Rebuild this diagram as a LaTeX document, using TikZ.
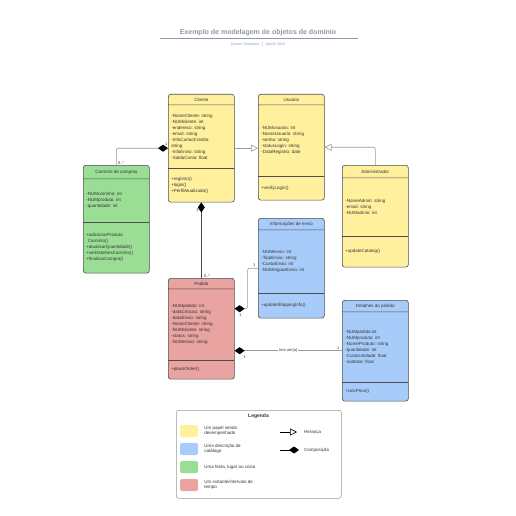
\documentclass[tikz,border=0pt]{standalone}
\usepackage{fontspec}
\setmainfont{Liberation Sans}
\usetikzlibrary{shapes.multipart,arrows.meta,positioning}

\definecolor{amarelo}{HTML}{FFF09E}
\definecolor{azul}{HTML}{A8CCFA}
\definecolor{verde}{HTML}{9ADD95}
\definecolor{vermelho}{HTML}{E9A3A1}
\definecolor{borda}{HTML}{4D4D4D}
\definecolor{texto}{HTML}{333333}
\definecolor{linha}{HTML}{9A9A9A}
\definecolor{cinza}{HTML}{8F98A8}

\newcommand{\titulo}[2]{\parbox[c][#1pt][c]{60pt}{\centering #2}}
\newcommand{\secao}[2]{\parbox[c][#1pt][c]{60pt}{\raggedright #2}}

\begin{document}
\begin{tikzpicture}[x=1pt, y=-1pt, >=latex]
        \tikzset{
  classe/.style={
    rectangle split,
    rectangle split parts=3,
    draw=borda,
    line width=.6pt,
    rounded corners=2.5pt,
    inner xsep=3pt,
    inner ysep=0pt,
    anchor=north west,
    text=texto,
    font=\fontsize{4.5}{6}\selectfont
  },
  heranca/.style={
    draw=linha,
    line width=.6pt,
    -{Triangle[open, length=7pt, width=7pt, fill=white]}
  },
  composicao/.style={
    draw=linha,
    line width=.6pt,
    {Diamond[length=10pt, width=7pt, color=black]}-
  },
  mult/.style={
    font=\fontsize{4}{5}\selectfont,
    text=texto,
    inner sep=.5pt
  },
  rotulo/.style={
    font=\fontsize{4}{5}\selectfont,
    text=texto,
    fill=white,
    inner sep=1pt
  },
  amostra/.style={
    rectangle,
    rounded corners=2pt,
    minimum width=18pt,
    minimum height=12pt
  },
  legtexto/.style={
    font=\fontsize{4.5}{5.5}\selectfont,
    text=texto,
    align=left,
    inner sep=0pt
  }
}

\useasboundingbox[fill=white] (0,0) rectangle (516,516);

% titulo
\node[font=\bfseries\fontsize{7}{8}\selectfont, text=cinza] (titulo) at (258,33) {Exemplo de modelagem de objetos de domínio};
\draw[cinza, line width=.6pt] (160,38.5) -- (358,38.5);
\node[font=\fontsize{3.5}{4}\selectfont, text=cinza] (subtitulo) at (258,44) {System Templates \ $|$ \ April 8, 2025};

% classes
\node[classe, fill=amarelo] (cliente) at (168,94) {\titulo{10}{Cliente}
  \nodepart{two}\secao{63}{-NomeCliente: string\\-NUMcliente: int\\-endereco: string\\-email: string\\-InfoCartaoCredito:\\string\\-InfoEnvio: string\\-SaldoConta: float}
  \nodepart{three}\secao{33}{+registro()\\+login()\\+PerfilAtualizado()}};

\node[classe, fill=amarelo] (usuario) at (258,94) {\titulo{10}{Usuário}
  \nodepart{two}\secao{71}{-NUMusuario: int\\-NomeUsuario: string\\-senha: string\\-statusLogin: string\\-DataRegistro: date}
  \nodepart{three}\secao{23}{+verifyLogin()}};

\node[classe, fill=verde] (carrinho) at (83,165) {\titulo{13}{Carrinho de compras}
  \nodepart{two}\secao{43}{-NUMcarrinho: int\\-NUMproduto: int\\-quantidade: int}
  \nodepart{three}\secao{50}{+adicionarProduto\\\hspace*{1.5pt}Carrinho()\\+atualizarQuantidade()\\+verDetalhesCarrinho()\\+finalizarCompra()}};

\node[classe, fill=amarelo] (admin) at (342,165) {\titulo{12}{Administrador}
  \nodepart{two}\secao{58}{-NomeAdmin: string\\-email: string\\-NUMadmin: int}
  \nodepart{three}\secao{30}{+updateCatalog()}};

\node[classe, fill=azul] (envio) at (258,218) {\titulo{11}{Informações de envio}
  \nodepart{two}\secao{63}{-NUMenvio: int\\-TipoEnvio: string\\-CustoEnvio: int\\-NUMregiaoEnvio: int}
  \nodepart{three}\secao{24}{+updateShippingInfo()}};

\node[classe, fill=vermelho] (pedido) at (168,278) {\titulo{10}{Pedido}
  \nodepart{two}\secao{71}{-NUMpedido: int\\-dataCriacao: string\\-dataEnvio: string\\-NomeCliente: string\\-NUMcliente: string\\-status: string\\-NUMenvio: string}
  \nodepart{three}\secao{18}{+placeOrder()}};

\node[classe, fill=azul] (detalhes) at (342,300) {\titulo{11}{Detalhes do pedido}
  \nodepart{two}\secao{70}{-NUMpedido:int\\-NUMproduto: int\\-NomeProduto: string\\-quantidade: int\\-CustoUnidade: float\\-subtotal: float}
  \nodepart{three}\secao{18}{+calcPrice()}};

% heranca
\draw[heranca] (cliente.east) -- (cliente.east -| usuario.west);
\draw[heranca, rounded corners=2pt] (admin.north) |- (usuario.east);

% composicao
\draw[composicao, rounded corners=2pt] (cliente.west) -| (carrinho.north);
\draw[composicao, draw=borda] (cliente.south) -- (pedido.north);
\draw[composicao, rounded corners=2pt] ([yshift=20pt]pedido.east) -- ++(13,0) |- (envio.west);
\coordinate (pd) at (pedido.east |- detalhes.west);
\draw[composicao] (pd) -- node[rotulo] (temum) {tem um(a)} (detalhes.west);

% multiplicidades
\node[mult, above left=2pt and 0pt of cliente.west] (m1) {1};
\node[mult, above right=0pt and 1pt of carrinho.north] (m2) {0..*};
\node[mult, below left=6pt and 2pt of cliente.south] (m3) {1};
\node[mult, above right=0pt and 2pt of pedido.north] (m4) {0..*};
\node[mult] (m5) at ([xshift=6pt,yshift=14pt]pedido.east) {1};
\node[mult, above left=1pt and 2pt of envio.west] (m6) {1};
\node[mult, below right=4pt and 8pt of pd] (m7) {1};
\node[mult, above left=1pt and 2pt of detalhes.west] (m8) {1};

% legenda
\node[draw=linha, line width=.5pt, rounded corners=2.5pt, minimum width=165pt, minimum height=88pt, anchor=north west] (legenda) at (176,410) {};
\node[font=\bfseries\fontsize{5}{6}\selectfont, text=texto] (legtitulo) at (258.5,416) {Legenda};

\foreach \cor/\yy/\txt [count=\i] in {amarelo/431/{Um papel sendo\\desempenhado}, azul/449/{Uma descrição de\\catálogo}, verde/467/{Uma festa, lugar ou coisa}, vermelho/485/{Um instante/intervalo de\\tempo}} {
  \node[amostra, fill=\cor] (amostra-\i) at (189,\yy) {};
  \node[legtexto, right=6pt of amostra-\i] (legtexto-\i) {\txt};
}

\coordinate (her-a) at (280,432);
\coordinate (her-b) at (297,432);
\draw[heranca, draw=black] (her-a) -- (her-b);
\node[legtexto, anchor=west] (her-texto) at (304,432) {Herança};

\coordinate (comp-a) at (299,450);
\coordinate (comp-b) at (280,450);
\draw[composicao, draw=black] (comp-a) -- (comp-b);
\node[legtexto, anchor=west] (comp-texto) at (304,450) {Composição};
      \end{tikzpicture}
\end{document}
